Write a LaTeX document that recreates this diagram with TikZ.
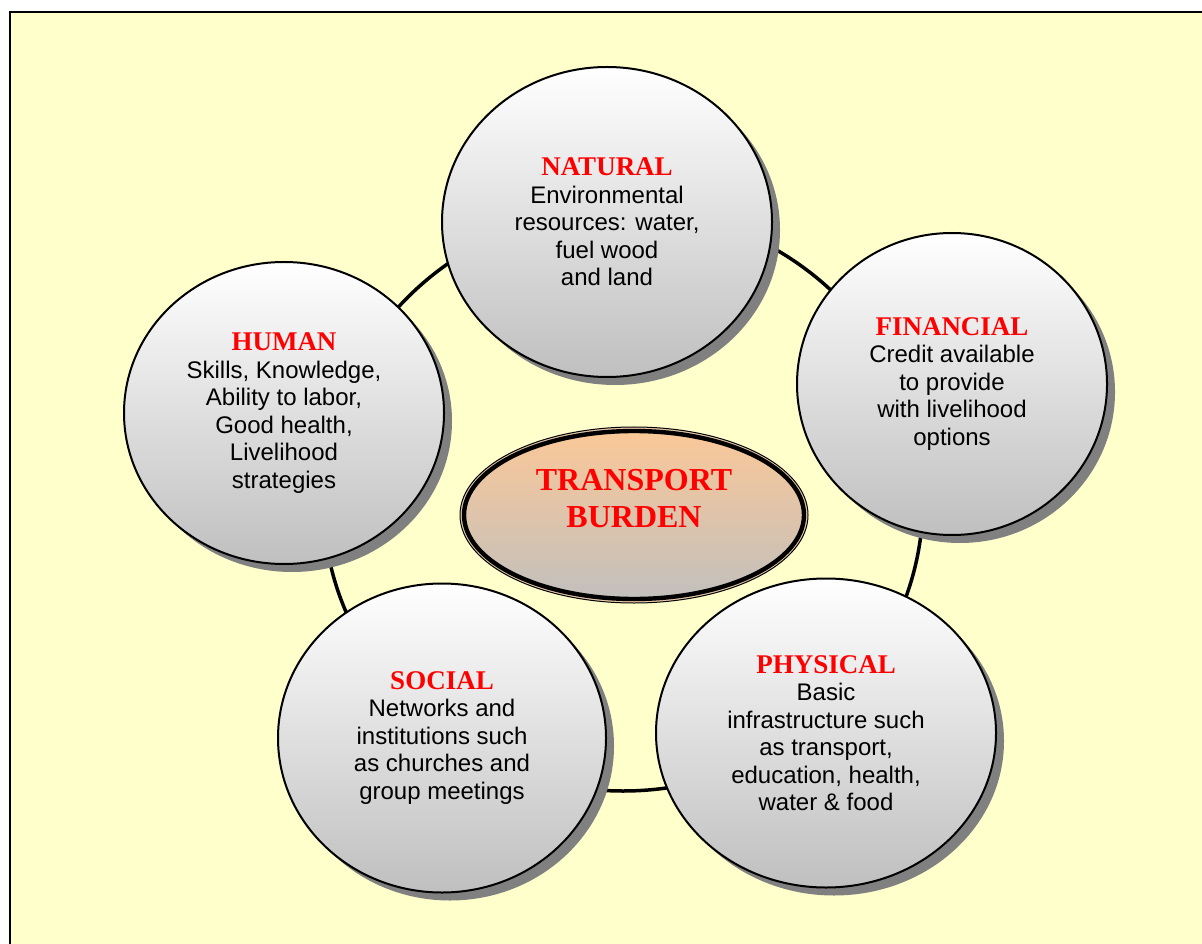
\documentclass[tikz,border=0pt]{standalone}
\usepackage{fontspec}
\setmainfont{Liberation Sans}
\newfontfamily\timesbold{Liberation Serif}
\usetikzlibrary{shapes.geometric,shadows}
\definecolor{paper}{RGB}{255,255,204}
\definecolor{shadowgray}{RGB}{128,128,128}
\definecolor{peach}{RGB}{250,200,152}
\definecolor{rim}{RGB}{232,200,170}
\newcommand{\capname}[1]{{\timesbold\bfseries\fontsize{13.5}{14}\selectfont\color{red}#1}}
\tikzset{
  capital/.style={ellipse, draw, line width=1pt, inner sep=0pt,
    top color=white, bottom color=gray!50,
    drop shadow={shadow xshift=4pt, shadow yshift=-4pt, fill=shadowgray, opacity=1},
    align=center, font=\fontsize{12}{13.75}\selectfont},
  ring/.style={ellipse, draw, line width=1.75pt, inner sep=0pt},
}
\begin{document}
\begin{tikzpicture}[x=0.5pt,y=0.5pt]
  \useasboundingbox (0,0) rectangle (1202,943);
  \clip (0,0) rectangle (1202,943);
  \fill[white] (0,0) rectangle (1202,943);
  \fill[paper] (10,-10) rectangle (1215,931);
  \draw[line width=1.2pt] (10,-10) -- (10,931) -- (1215,931);
  % ring behind the five capitals
  \node[ring, minimum width=300pt, minimum height=291pt] (ring) at (623,443) {};
  % the five capitals
  \node[capital, minimum width=165pt, minimum height=155pt] (natural) at (607,721)
    {\capname{NATURAL}\\Environmental\\resources: water,\\fuel wood\\and land};
  \node[capital, minimum width=155pt, minimum height=151pt] (financial) at (952,559)
    {\capname{FINANCIAL}\\Credit available\\to provide\\with livelihood\\options};
  \node[capital, minimum width=160pt, minimum height=151pt] (human) at (284,530)
    {\capname{HUMAN}\\Skills, Knowledge,\\Ability to labor,\\Good health,\\Livelihood\\strategies};
  \node[capital, minimum width=164pt, minimum height=154.5pt] (social) at (442,205)
    {\capname{SOCIAL}\\Networks and\\institutions such\\as churches and\\group meetings};
  \node[capital, minimum width=170pt, minimum height=154.5pt] (physical) at (826,210)
    {\capname{PHYSICAL}\\Basic\\infrastructure such\\as transport,\\education, health,\\water \& food};
  % centre
  \node[ellipse, draw, line width=0.5pt, fill=rim, inner sep=0pt,
    minimum width=174pt, minimum height=88pt] (rimline) at (634,428) {};
  \node[ellipse, draw, line width=2.2pt, top color=peach, bottom color=gray!50!white!95!peach, inner sep=0pt,
    minimum width=170pt, minimum height=84pt] (burden) at (rimline.center) {};
  \node[align=center, text=red, font=\timesbold\bfseries\fontsize{16}{18.5}\selectfont]
    (burdentext) at ([yshift=8pt]burden.center) {TRANSPORT\\BURDEN};
\end{tikzpicture}
\end{document}
